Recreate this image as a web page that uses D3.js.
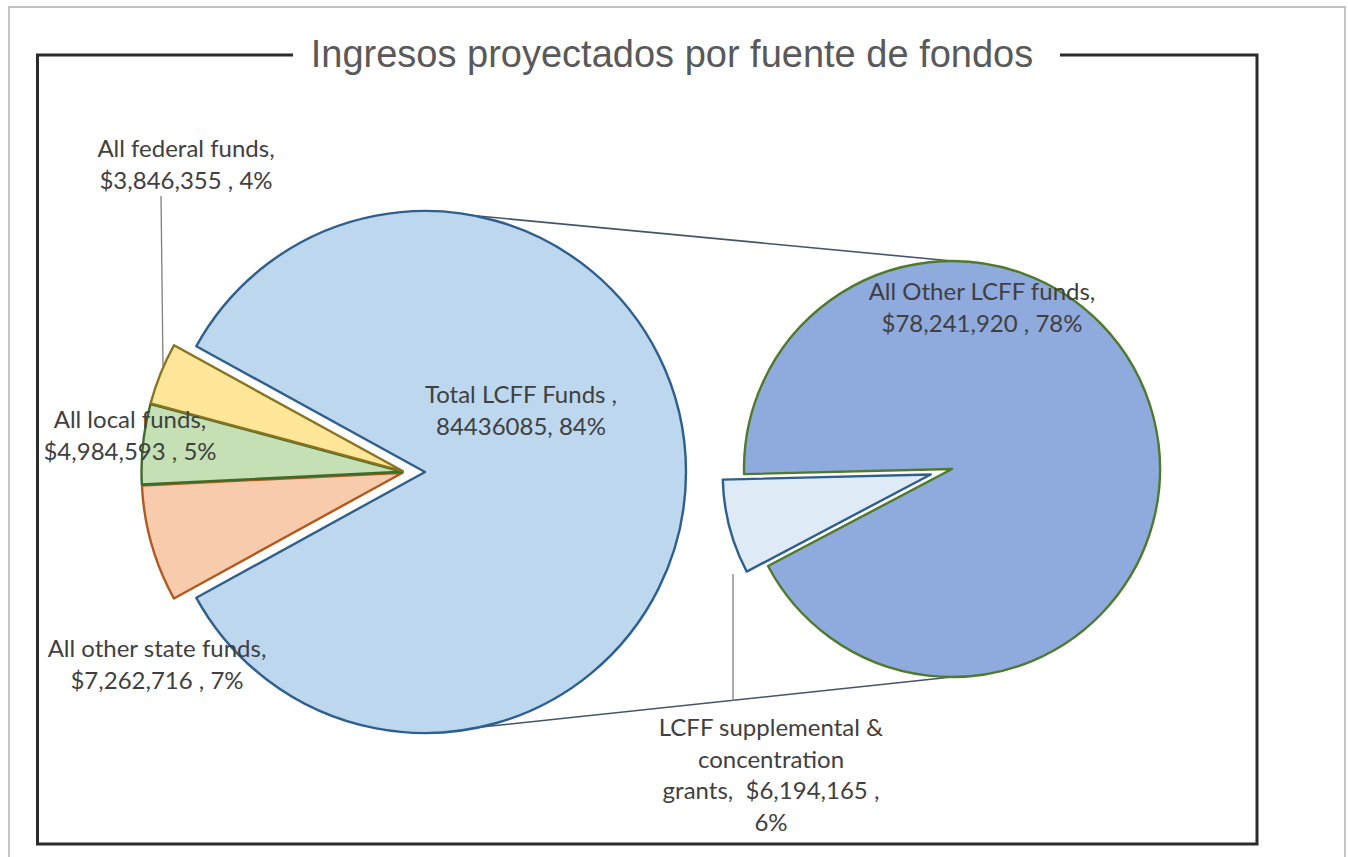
<!DOCTYPE html>
<html>
<head>
<meta charset="utf-8">
<script src="https://cdn.jsdelivr.net/npm/d3@7"></script>
<style>
  body { margin: 0; background: #fff; }
  svg { display: block; }
</style>
</head>
<body>
<svg id="chart" width="1348" height="857"></svg>
<script>
// data
const title = 'Ingresos proyectados por fuente de fondos'
const mainCategories = ['Total LCFF Funds', 'All other state funds', 'All local funds', 'All federal funds']
const mainValues = [84436085, 7262716, 4984593, 3846355]
const mainLabels = [
  ['Total LCFF Funds ,', '84436085, 84%'],
  ['All other state funds,', '$7,262,716 , 7%'],
  ['All local funds,', '$4,984,593 , 5%'],
  ['All federal funds,', '$3,846,355 , 4%']
]
const subCategories = ['All Other LCFF funds', 'LCFF supplemental & concentration grants']
const subValues = [78241920, 6194165]
const subLabels = [
  ['All Other LCFF funds,', '$78,241,920 , 78%'],
  ['LCFF supplemental &', 'concentration', 'grants,  $6,194,165 ,', '6%']
]

const mainFill = ['#bdd7ee', '#f8cbad', '#c5e0b4', '#ffe699']
const mainStroke = ['#2f5f8c', '#b05a1f', '#3d6b2a', '#8a7320']
const subFill = ['#8faadc', '#deebf7']
const subStroke = ['#4f7a2c', '#2f5f8c']

const svg = d3.select('#chart')

// outer gray border & chart frame
svg.append('rect').attr('x', 9).attr('y', 7).attr('width', 1336).attr('height', 880)
  .attr('fill', 'none').attr('stroke', '#c4c4c4').attr('stroke-width', 2)

svg.append('path')
  .attr('d', 'M293,55 L37.5,55 L37.5,844 L1257,844 L1257,55 L1060,55')
  .attr('fill', 'none').attr('stroke', '#2b2b2b').attr('stroke-width', 3)

svg.append('text').attr('x', 672).attr('y', 67).attr('text-anchor', 'middle')
  .attr('font-family', 'Liberation Sans, Arial, sans-serif').attr('font-size', 38)
  .attr('fill', '#595959').text(title)

// main pie
const mainC = [425, 472]
const mainR = 261
const bigFrac = mainValues[0] / d3.sum(mainValues)
const mainStart = Math.PI / 2 - bigFrac * Math.PI
const mainPie = d3.pie().sort(null).startAngle(mainStart).endAngle(mainStart + 2 * Math.PI)
const mainArcs = mainPie(mainValues)
const mainArc = d3.arc().innerRadius(0).outerRadius(mainR)

// sub pie
const subC = [952, 469]
const subR = 208
const subStart = -91.4 * Math.PI / 180
const subPie = d3.pie().sort(null).startAngle(subStart).endAngle(subStart + 2 * Math.PI)
const subArcs = subPie(subValues)
const subArc = d3.arc().innerRadius(0).outerRadius(subR)

// connector lines
const conn = svg.append('g').attr('stroke', '#44546a').attr('stroke-width', 1.6)
conn.append('line').attr('x1', mainC[0]).attr('y1', mainC[1] - mainR).attr('x2', subC[0]).attr('y2', subC[1] - subR)
conn.append('line').attr('x1', mainC[0]).attr('y1', mainC[1] + mainR).attr('x2', subC[0]).attr('y2', subC[1] + subR)

function explode (d, i, shift, dist) {
  if (i === 0) return [0, 0]
  const mid = (d.startAngle + d.endAngle) / 2
  return [shift + dist * Math.sin(mid), -dist * Math.cos(mid)]
}

const gMain = svg.append('g').attr('transform', `translate(${mainC[0]},${mainC[1]})`)
gMain.selectAll('path').data(mainArcs).join('path')
  .attr('d', mainArc)
  .attr('transform', (d, i) => {
    const o = explode(d, i, -20, 2.5)
    return `translate(${o[0]},${o[1]})`
  })
  .attr('fill', (d, i) => mainFill[i])
  .attr('stroke', (d, i) => mainStroke[i])
  .attr('stroke-width', 2.4)
  .attr('stroke-linejoin', 'round')

const gSub = svg.append('g').attr('transform', `translate(${subC[0]},${subC[1]})`)
gSub.selectAll('path').data(subArcs).join('path')
  .attr('d', subArc)
  .attr('transform', (d, i) => {
    const o = explode(d, i, 0, 22)
    return `translate(${o[0]},${o[1]})`
  })
  .attr('fill', (d, i) => subFill[i])
  .attr('stroke', (d, i) => subStroke[i])
  .attr('stroke-width', 2.4)
  .attr('stroke-linejoin', 'round')

// leader lines
const leaders = svg.append('g').attr('stroke', '#7f7f7f').attr('stroke-width', 1.3)
leaders.append('line').attr('x1', 161).attr('y1', 196).attr('x2', 163).attr('y2', 366)
leaders.append('line').attr('x1', 733).attr('y1', 574).attr('x2', 733).attr('y2', 701)

// data labels
const labelPos = [[521, 403], [157, 657], [130, 428], [186, 157]]
const subLabelPos = [[982, 300], [771, 736]]
const lineH = 31.5

function drawLabel (lines, pos) {
  const t = svg.append('text')
    .attr('text-anchor', 'middle')
    .attr('font-family', 'Lato, Carlito, Calibri, sans-serif')
    .attr('font-size', 24)
    .attr('fill', '#404040')
  lines.forEach((s, k) => {
    t.append('tspan').attr('x', pos[0]).attr('y', pos[1] + k * lineH).attr('xml:space', 'preserve').text(s)
  })
}
mainLabels.forEach((l, i) => drawLabel(l, labelPos[i]))
subLabels.forEach((l, i) => drawLabel(l, subLabelPos[i]))
</script>
</body>
</html>
